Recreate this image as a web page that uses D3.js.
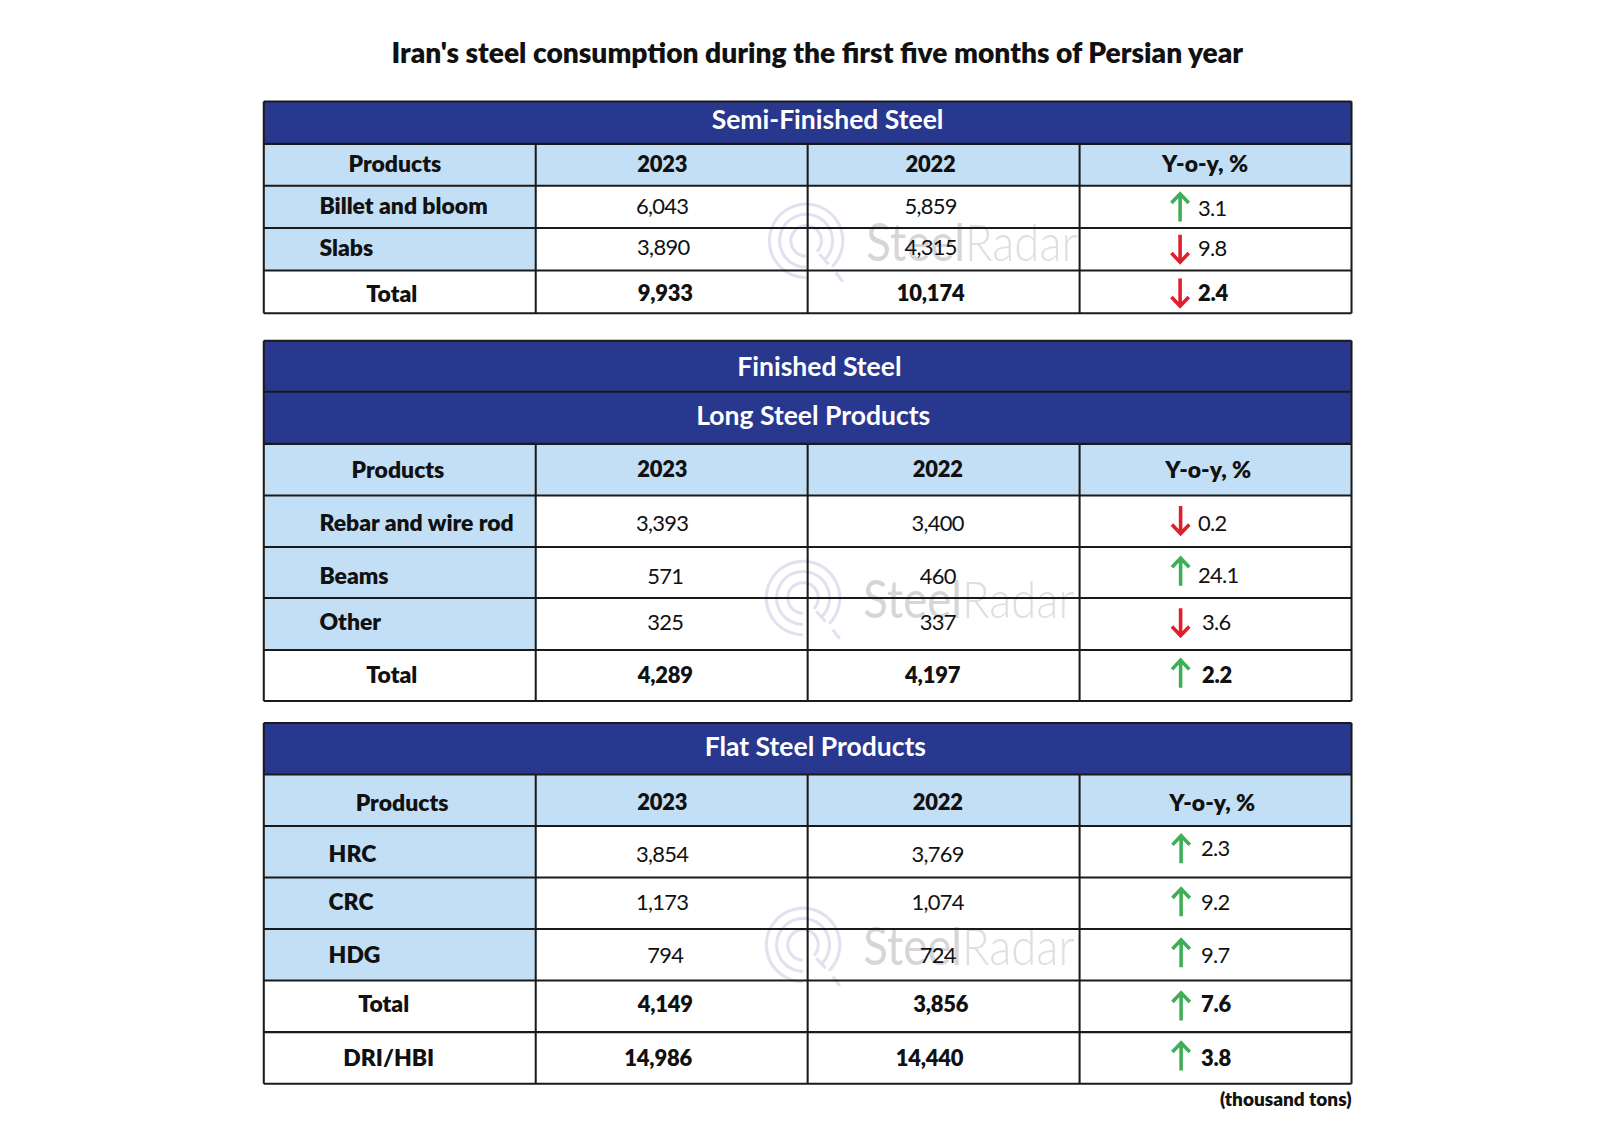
<!DOCTYPE html>
<html>
<head>
<meta charset="utf-8">
<script src="https://cdn.jsdelivr.net/npm/d3@7"></script>
<style>
  html, body { margin: 0; padding: 0; background: #fff; }
  text { font-family: Lato, "Open Sans", sans-serif; fill: #111; }
</style>
</head>
<body>
<div id="vis"></div>
<script>
// values
const chartTitle = "Iran's steel consumption during the first five months of Persian year";
const unitNote = "(thousand tons)";
const headerLabels = ["Products", "2023", "2022", "Y-o-y, %"];

const semiProducts = ["Billet and bloom", "Slabs", "Total"];
const semi2023 = [6043, 3890, 9933];
const semi2022 = [5859, 4315, 10174];
const semiYoy = [3.1, -9.8, -2.4];

const longProducts = ["Rebar and wire rod", "Beams", "Other", "Total"];
const long2023 = [3393, 571, 325, 4289];
const long2022 = [3400, 460, 337, 4197];
const longYoy = [-0.2, 24.1, -3.6, 2.2];

const flatProducts = ["HRC", "CRC", "HDG", "Total", "DRI/HBI"];
const flat2023 = [3854, 1173, 794, 4149, 14986];
const flat2022 = [3769, 1074, 724, 3856, 14440];
const flatYoy = [2.3, 9.2, 9.7, 7.6, 3.8];

const navy = "#28388f", pale = "#c3dff5", green = "#3fae56", red = "#e01f2d";

// picture is laid out in a 1568 wide space
const svg = d3.select("#vis").append("svg")
  .attr("width", 1600).attr("height", 1131)
  .attr("viewBox", "0 0 1568 1108.4")
  .style("display", "block");

const x = d3.scaleBand().domain(headerLabels).range([258.5, 1324.5]);
const fmt = d3.format(",");

function watermark(g, cx, cy) {
  const ringColor = "#e0e3ef";
  const ring = d3.arc().startAngle(Math.PI).endAngle(Math.PI * 2.75);
  [36, 26, 15].forEach(r => {
    g.append("path")
      .attr("transform", `translate(${cx},${cy})`)
      .attr("d", ring({innerRadius: r - 1.5, outerRadius: r + 1.5}))
      .attr("fill", ringColor);
  });
  // the little stem and tail at the lower right
  [[13, 13, 22, 23], [29, 31, 36, 40]].forEach(s => {
    g.append("line")
      .attr("x1", cx + s[0]).attr("y1", cy + s[1])
      .attr("x2", cx + s[2]).attr("y2", cy + s[3])
      .attr("stroke", ringColor).attr("stroke-width", 3);
  });
  const t = g.append("text")
    .attr("transform", `translate(${cx + 59},${cy + 20}) scale(0.875,1)`)
    .style("font-size", "51px").style("fill", "#d6d6d9");
  t.append("tspan").style("font-weight", 400).text("Steel");
  t.append("tspan").style("font-weight", 300).style("fill", "#dfdfe2").text("Radar");
}

function arrow(g, cx, cy, up) {
  const s = up ? -1 : 1;
  const path = d3.path();
  path.moveTo(cx, cy - s * 14);
  path.lineTo(cx, cy + s * 13);
  path.moveTo(cx - 8.5, cy + s * 4);
  path.lineTo(cx, cy + s * 13);
  path.lineTo(cx + 8.5, cy + s * 4);
  g.append("path").attr("d", path.toString())
    .attr("fill", "none")
    .attr("stroke", up ? green : red)
    .attr("stroke-width", 3.5);
}

function cellText(g, str, xPos, yPos, anchor, weight) {
  g.append("text").attr("x", xPos).attr("y", yPos)
    .attr("text-anchor", anchor)
    .attr("dominant-baseline", "central")
    .style("font-size", "22.5px")
    .style("font-weight", weight)
    .text(str);
}

// Lato digits run wider than the source font, so pull them in
function numText(g, str, xPos, yPos, anchor, weight) {
  g.append("text").attr("x", xPos).attr("y", yPos)
    .attr("text-anchor", anchor)
    .attr("dominant-baseline", "central")
    .style("font-size", "21.5px")
    .style("letter-spacing", weight > 400 ? "-0.2px" : "-0.7px")
    .style("font-weight", weight)
    .text(str);
}

// opts holds the hand nudges, the source table is not very regular
function drawTable(o) {
  const g = svg.append("g");
  const rowNames = o.banners.map((d, i) => "b" + i).concat(["head"], o.products);
  const y = d3.scaleOrdinal().domain(rowNames).range(o.rowEdges.slice(0, -1));
  const h = (name) => o.rowEdges[rowNames.indexOf(name) + 1] - y(name);

  // fills
  o.banners.forEach((b, i) => {
    g.append("rect").attr("x", x.range()[0]).attr("y", y("b" + i))
      .attr("width", x.range()[1] - x.range()[0]).attr("height", h("b" + i))
      .attr("fill", navy);
  });
  g.append("rect").attr("x", x.range()[0]).attr("y", y("head"))
    .attr("width", x.range()[1] - x.range()[0]).attr("height", h("head"))
    .attr("fill", pale);
  o.products.forEach((p, i) => {
    if (i < o.paleRows) {
      g.append("rect").attr("x", x("Products")).attr("y", y(p))
        .attr("width", x.bandwidth()).attr("height", h(p)).attr("fill", pale);
    }
  });

  watermark(g, o.wm[0], o.wm[1]);

  // grid
  const lines = g.append("g").attr("stroke", "#1a1a1a").attr("stroke-width", 2);
  o.rowEdges.forEach(e => {
    lines.append("line").attr("x1", x.range()[0]).attr("x2", x.range()[1]).attr("y1", e).attr("y2", e);
  });
  const gridTop = y("head");
  const bottom = o.rowEdges[o.rowEdges.length - 1];
  x.domain().slice(1).forEach(c => {
    lines.append("line").attr("x1", x(c)).attr("x2", x(c)).attr("y1", gridTop).attr("y2", bottom);
  });
  x.range().forEach(e => {
    lines.append("line").attr("x1", e).attr("x2", e).attr("y1", o.rowEdges[0]).attr("y2", bottom);
  });

  // banners
  o.banners.forEach((b, i) => {
    g.append("text").attr("x", o.bannerX[i]).attr("y", y("b" + i) + h("b" + i) / 2 + o.bannerDy[i])
      .attr("text-anchor", "middle").attr("dominant-baseline", "central")
      .style("font-size", "26px").style("font-weight", 700).style("fill", "#fff")
      .text(b);
  });

  // header
  headerLabels.forEach((c, i) => {
    const yPos = y("head") + h("head") / 2 + o.headDy;
    if (i === 1 || i === 2) numText(g, c, o.headX[i], yPos, "middle", 800);
    else cellText(g, c, o.headX[i], yPos, "middle", 800);
  });

  // rows
  o.products.forEach((p, i) => {
    const w = o.boldRows.includes(p) ? 800 : 400;
    const rowY = o.textY[i];
    cellText(g, p, o.labelX[i][0], rowY, o.labelX[i][1], 800);
    numText(g, fmt(o.v23[i]), o.x23[i], rowY, "middle", w);
    numText(g, fmt(o.v22[i]), o.x22[i], rowY, "middle", w);
    arrow(g, o.arrowX, o.arrowY[i], o.yoy[i] > 0);
    numText(g, Math.abs(o.yoy[i]).toFixed(1), o.yoyX[i], o.yoyY[i], "start", w);
  });
}

svg.append("text").attr("x", 801).attr("y", 51)
  .attr("text-anchor", "middle").attr("dominant-baseline", "central")
  .style("font-size", "27.6px").style("font-weight", 800)
  .text(chartTitle);

drawTable({
  banners: ["Semi-Finished Steel"], bannerX: [811], bannerDy: [-4], headDy: -1.5,
  rowEdges: [99.5, 141, 182, 223.5, 265, 307],
  products: semiProducts, paleRows: 2, boldRows: ["Total"],
  v23: semi2023, v22: semi2022, yoy: semiYoy,
  headX: [387, 649, 912, 1181],
  labelX: [[313, "start"], [313, "start"], [384, "middle"]],
  textY: [201, 242, 287], x23: [649, 650, 652], x22: [912, 912, 912],
  arrowY: [203, 244, 287], yoyY: [203, 243, 287], yoyX: [1174, 1174, 1174], arrowX: 1156.5,
  wm: [790, 236]
});

drawTable({
  banners: ["Finished Steel", "Long Steel Products"], bannerX: [803, 797], bannerDy: [0, -3], headDy: -1,
  rowEdges: [334, 384, 435, 485.5, 536, 586, 637, 687],
  products: longProducts, paleRows: 3, boldRows: ["Total"],
  v23: long2023, v22: long2022, yoy: longYoy,
  headX: [390, 649, 919, 1184],
  labelX: [[313, "start"], [313, "start"], [313, "start"], [384, "middle"]],
  textY: [512, 564, 609, 661], x23: [649, 652, 652, 652], x22: [919, 919, 919, 914],
  arrowY: [510, 560, 610, 660], yoyY: [512, 563, 609, 661], yoyX: [1174, 1174, 1178, 1178], arrowX: 1157,
  wm: [787, 586]
});

drawTable({
  banners: ["Flat Steel Products"], bannerX: [799], bannerDy: [-3], headDy: 1.5,
  rowEdges: [708.5, 759, 809.5, 860, 910.5, 961, 1011.5, 1062],
  products: flatProducts, paleRows: 3, boldRows: ["Total", "DRI/HBI"],
  v23: flat2023, v22: flat2022, yoy: flatYoy,
  headX: [394, 649, 919, 1188],
  labelX: [[322, "start"], [322, "start"], [322, "start"], [376, "middle"], [381, "middle"]],
  textY: [836, 883, 935, 983, 1036], x23: [649, 649, 652, 652, 645], x22: [919, 919, 919, 922, 911],
  arrowY: [832, 884, 934, 986, 1035], yoyY: [831, 883, 935, 983, 1036], yoyX: [1177, 1177, 1177, 1177, 1177], arrowX: 1157.5,
  wm: [787, 926]
});

svg.append("text").attr("x", 1324.5).attr("y", 1077)
  .attr("text-anchor", "end").attr("dominant-baseline", "central")
  .style("font-size", "18.6px").style("font-weight", 800)
  .text(unitNote);
</script>
</body>
</html>
